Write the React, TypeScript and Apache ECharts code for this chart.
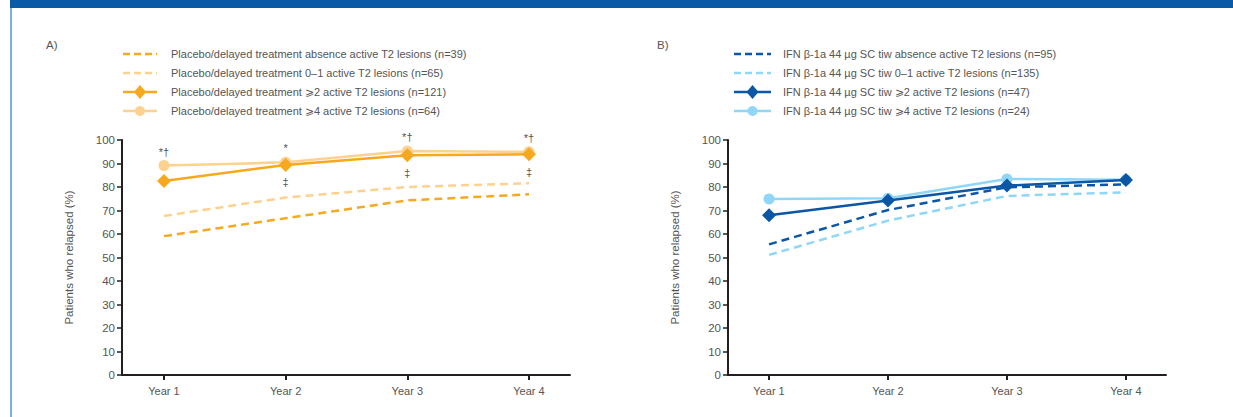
import React, { useEffect, useRef } from "react";
import * as echarts from "echarts";

const categories = ["Year 1", "Year 2", "Year 3", "Year 4"];
const yTicks = [0, 10, 20, 30, 40, 50, 60, 70, 80, 90, 100];

const namesA = [
  "Placebo/delayed treatment absence active T2 lesions (n=39)",
  "Placebo/delayed treatment 0–1 active T2 lesions (n=65)",
  "Placebo/delayed treatment ⩾2 active T2 lesions (n=121)",
  "Placebo/delayed treatment ⩾4 active T2 lesions (n=64)",
];
const placeboAbsence = [59.1, 66.7, 74.3, 76.9];
const placebo01 = [67.7, 75.5, 80.0, 81.6];
const placebo2 = [82.6, 89.4, 93.5, 93.9];
const placebo4 = [89.1, 90.5, 95.3, 95.0];
const topMarksA = ["*†", "*", "*†", "*†"];
const bottomMarksA = ["", "‡", "‡", "‡"];

const namesB = [
  "IFN β-1a 44 µg SC tiw absence active T2 lesions (n=95)",
  "IFN β-1a 44 µg SC tiw 0–1 active T2 lesions (n=135)",
  "IFN β-1a 44 µg SC tiw ⩾2 active T2 lesions (n=47)",
  "IFN β-1a 44 µg SC tiw ⩾4 active T2 lesions (n=24)",
];
const ifnAbsence = [55.6, 70.2, 79.9, 81.1];
const ifn01 = [51.1, 65.7, 76.2, 77.7];
const ifn2 = [68.0, 74.3, 80.6, 83.0];
const ifn4 = [74.9, 75.2, 83.4, 83.1];

const FONT = "Liberation Sans, Arial, sans-serif";
const TEXT = "#555555";
const AXIS = "#231f20";
const ORANGE = "#f6a81e";
const ORANGE_L = "#fdd28e";
const BLUE = "#0b57a5";
const BLUE_L = "#8fd6f7";

const styleKinds = ["dashed", "dashed", "diamond", "circle"];

const toPts = (vals: number[]) => vals.map((v, i) => [i + 1, v]);

export default function App() {
  const ref = useRef<HTMLDivElement>(null);
  useEffect(() => {
    if (!ref.current) return;
    const chart = echarts.init(ref.current, undefined, { renderer: "svg" });

    const xAxisFor = (gridIndex: number) => ({
      type: "value",
      gridIndex,
      min: 0.655,
      max: 4.337,
      axisLine: { show: true, lineStyle: { color: AXIS, width: 2 } },
      axisTick: {
        show: true,
        customValues: [1, 2, 3, 4],
        length: 5,
        lineStyle: { color: AXIS, width: 2 },
      },
      axisLabel: {
        customValues: [1, 2, 3, 4],
        formatter: (v: number) => categories[Math.round(v) - 1] ?? "",
        color: TEXT,
        fontFamily: FONT,
        fontSize: 11,
        margin: 10,
      },
      splitLine: { show: false },
    });

    const yAxisFor = (gridIndex: number) => ({
      type: "value",
      gridIndex,
      min: 0,
      max: 100,
      interval: 10,
      name: "Patients who relapsed (%)",
      nameLocation: "middle",
      nameGap: 47,
      nameTextStyle: { color: TEXT, fontFamily: FONT, fontSize: 11.5 },
      axisLine: { show: true, lineStyle: { color: AXIS, width: 2 } },
      axisTick: { show: true, length: 5, lineStyle: { color: AXIS, width: 1.5 } },
      axisLabel: {
        color: TEXT,
        fontFamily: FONT,
        fontSize: 11.5,
        margin: 7,
        customValues: yTicks,
      },
      splitLine: { show: false },
    });

    const dashed = (name: string, data: number[], color: string, idx: number) => ({
      name,
      type: "line",
      xAxisIndex: idx,
      yAxisIndex: idx,
      data: toPts(data),
      showSymbol: false,
      symbol: "none",
      lineStyle: { color, width: 2.5, type: [8, 5] },
      itemStyle: { color },
      z: 2,
    });

    const solid = (
      name: string,
      data: number[],
      color: string,
      idx: number,
      symbol: string,
      size: number,
      label?: any
    ) => ({
      name,
      type: "line",
      xAxisIndex: idx,
      yAxisIndex: idx,
      data: toPts(data),
      symbol,
      symbolSize: size,
      lineStyle: { color, width: 2.5 },
      itemStyle: { color },
      label,
      z: symbol === "diamond" ? 4 : 3,
    });

    const markLabel = (marks: string[], position: string, distance: number) => ({
      show: true,
      position,
      distance,
      color: TEXT,
      fontFamily: FONT,
      fontSize: 11,
      formatter: (p: any) => marks[p.dataIndex] ?? "",
    });

    const legendGraphic = (
      names: string[],
      colors: string[],
      x0: number,
      lineW: number,
      textX: number
    ) => {
      const els: any[] = [];
      names.forEach((name, i) => {
        const y = 54 + 19 * i;
        const kind = styleKinds[i];
        const color = colors[i];
        els.push({
          type: "line",
          shape: { x1: x0, y1: y, x2: x0 + lineW, y2: y },
          style: {
            stroke: color,
            lineWidth: 2.5,
            lineDash: kind === "dashed" ? [7, 4] : null,
          },
        });
        const cx = x0 + lineW / 2;
        if (kind === "diamond") {
          els.push({
            type: "polygon",
            shape: { points: [[cx, y - 7], [cx + 6, y], [cx, y + 7], [cx - 6, y]] },
            style: { fill: color },
          });
        } else if (kind === "circle") {
          els.push({
            type: "circle",
            shape: { cx, cy: y, r: 5 },
            style: { fill: color },
          });
        }
        els.push({
          type: "text",
          x: textX,
          y,
          style: {
            text: name,
            fill: TEXT,
            font: `11px ${FONT}`,
            textVerticalAlign: "middle",
            verticalAlign: "middle",
          },
        });
      });
      return els;
    };

    chart.setOption({
      animation: false,
      backgroundColor: "#ffffff",
      grid: [
        { left: 122, top: 140, width: 448, height: 235 },
        { left: 728, top: 140, width: 438, height: 235 },
      ],
      xAxis: [xAxisFor(0), xAxisFor(1)],
      yAxis: [yAxisFor(0), yAxisFor(1)],
      graphic: [
        { type: "rect", left: 10, top: 0, shape: { width: 1223, height: 8 }, style: { fill: "#0a5aa8" } },
        { type: "rect", left: 10, top: 8, shape: { width: 2, height: 409 }, style: { fill: "#7fb0e0" } },
        { type: "text", left: 46, top: 39, style: { text: "A)", fill: TEXT, font: `11.5px ${FONT}` } },
        { type: "text", left: 657, top: 39, style: { text: "B)", fill: TEXT, font: `11.5px ${FONT}` } },
        ...legendGraphic(namesA, [ORANGE, ORANGE_L, ORANGE, ORANGE_L], 123, 34, 171),
        ...legendGraphic(namesB, [BLUE, BLUE_L, BLUE, BLUE_L], 734, 37, 783),
      ],
      series: [
        dashed(namesA[0], placeboAbsence, ORANGE, 0),
        dashed(namesA[1], placebo01, ORANGE_L, 0),
        solid(namesA[2], placebo2, ORANGE, 0, "diamond", 14, markLabel(bottomMarksA, "bottom", 5)),
        solid(namesA[3], placebo4, ORANGE_L, 0, "circle", 11, markLabel(topMarksA, "top", 3)),
        dashed(namesB[0], ifnAbsence, BLUE, 1),
        dashed(namesB[1], ifn01, BLUE_L, 1),
        solid(namesB[2], ifn2, BLUE, 1, "diamond", 14),
        solid(namesB[3], ifn4, BLUE_L, 1, "circle", 11),
      ],
    });
    return () => chart.dispose();
  }, []);

  return (
    <div
      ref={ref}
      style={{ position: "fixed", left: 0, top: 0, width: 1233, height: 417 }}
    />
  );
}
